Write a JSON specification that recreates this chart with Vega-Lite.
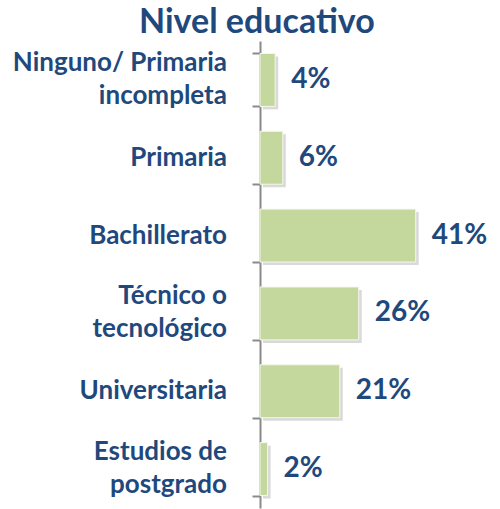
{
  "$schema": "https://vega.github.io/schema/vega-lite/v6.json",
  "autosize": "none",
  "width": 240,
  "height": 467,
  "padding": {"left": 260, "top": 41, "right": 0, "bottom": 1},
  "background": "white",
  "title": {
    "text": "Nivel educativo",
    "anchor": "start",
    "frame": "group",
    "dx": -121,
    "dy": 37,
    "offset": 11,
    "baseline": "alphabetic",
    "font": "Lato",
    "fontSize": 34,
    "fontWeight": "bold",
    "color": "#1F497D"
  },
  "data": {
    "values": [
      {"nivel": "Ninguno/ Primaria|incompleta", "pct": 4, "txt": "4%"},
      {"nivel": "Primaria", "pct": 6, "txt": "6%"},
      {"nivel": "Bachillerato", "pct": 41, "txt": "41%"},
      {"nivel": "Técnico o|tecnológico", "pct": 26, "txt": "26%"},
      {"nivel": "Universitaria", "pct": 21, "txt": "21%"},
      {"nivel": "Estudios de|postgrado", "pct": 2, "txt": "2%"}
    ]
  },
  "encoding": {
    "y": {
      "field": "nivel",
      "type": "nominal",
      "sort": null,
      "scale": {"paddingInner": 0.32, "paddingOuter": 0.16},
      "axis": {
        "title": null,
        "labels": false,
        "domainColor": "#8a8a8a",
        "domainWidth": 2,
        "tickColor": "#8a8a8a",
        "tickWidth": 2,
        "tickSize": 8,
        "tickBand": "extent"
      }
    },
    "x": {
      "field": "pct",
      "type": "quantitative",
      "scale": {"domain": [0, 63.2]},
      "axis": null
    }
  },
  "layer": [
    {"mark": {"type": "bar", "color": "#000000", "opacity": 0.15, "xOffset": 3, "yOffset": 3}},
    {"mark": {"type": "bar", "color": "#C4D79C", "stroke": "#f4f8ec", "strokeWidth": 1}},
    {
      "mark": {"type": "text", "align": "left", "baseline": "middle", "dx": 16, "font": "Lato", "fontSize": 28, "fontWeight": "bold", "color": "#1F497D"},
      "encoding": {"text": {"field": "txt"}}
    },
    {
      "transform": [{"filter": "indexof(datum.nivel, '|') < 0"}],
      "mark": {"type": "text", "align": "right", "baseline": "middle", "dx": -33, "font": "Lato", "fontSize": 26, "fontWeight": "bold", "color": "#1F497D"},
      "encoding": {"x": {"datum": 0}, "text": {"field": "nivel"}}
    },
    {
      "transform": [{"filter": "indexof(datum.nivel, '|') >= 0"}],
      "mark": {"type": "text", "align": "right", "baseline": "middle", "dx": -33, "dy": -17, "lineBreak": "|", "lineHeight": 33, "font": "Lato", "fontSize": 26, "fontWeight": "bold", "color": "#1F497D"},
      "encoding": {"x": {"datum": 0}, "text": {"field": "nivel"}}
    }
  ],
  "config": {"view": {"stroke": null}}
}
